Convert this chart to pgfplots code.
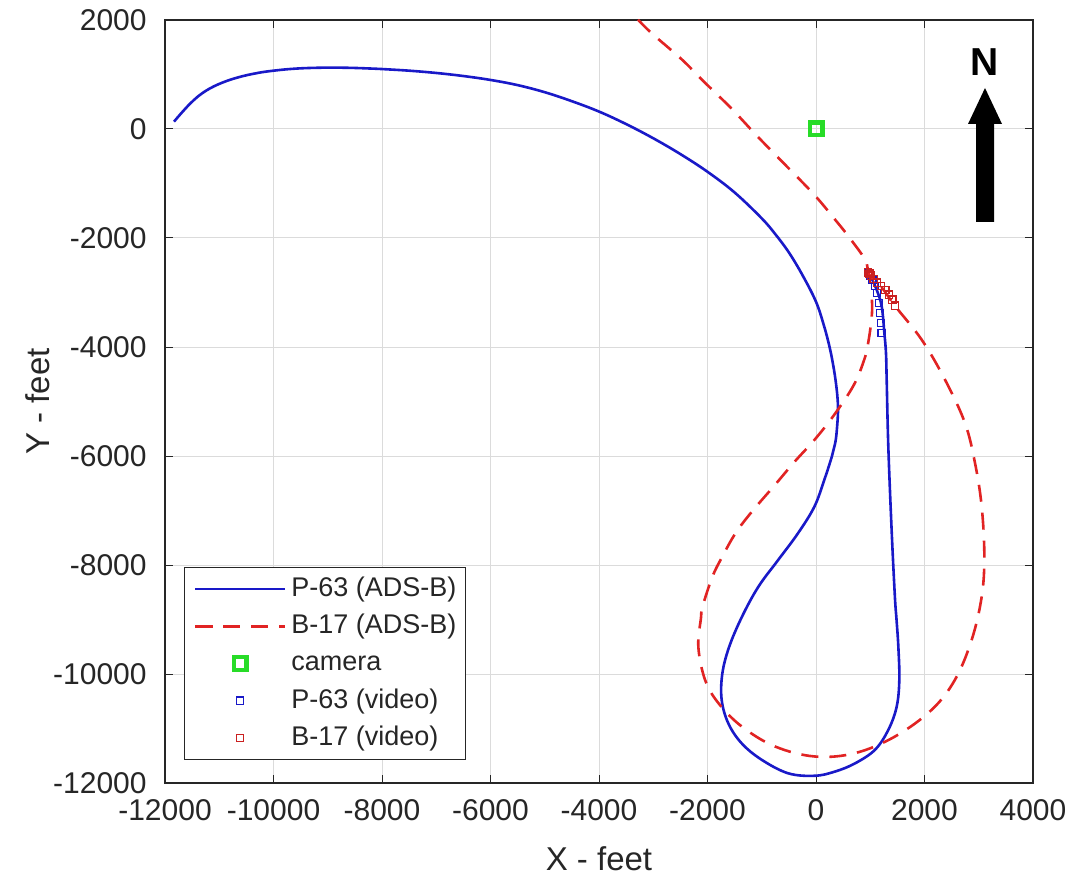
\documentclass[border=0pt]{standalone}
\usepackage{fontspec}
\setmainfont{Liberation Sans}
\usepackage{pgfplots}
\pgfplotsset{compat=1.18}
\definecolor{axgray}{rgb}{0.15,0.15,0.15}
\definecolor{pblue}{RGB}{25,25,200}
\definecolor{bred}{RGB}{225,35,35}
\definecolor{camgreen}{RGB}{40,220,40}

\begin{document}
\begin{tikzpicture}
\begin{axis}[
  at={(0,0)}, anchor=south west,
  scale only axis,
  width=434pt, height=381.5pt,
  xmin=-12000, xmax=4000, ymin=-12000, ymax=2000,
  xtick={-12000,-10000,...,4000},
  ytick={-12000,-10000,...,2000},
  xticklabels={-12000,-10000,-8000,-6000,-4000,-2000,0,2000,4000},
  yticklabels={-12000,-10000,-8000,-6000,-4000,-2000,0,2000},
  scaled ticks=false,
  tick align=inside,
  major tick length=4pt,
  tick style={axgray, line width=0.5pt},
  axis line style={axgray, line width=0.6pt},
  grid=major,
  major grid style={black!14, line width=0.5pt},
  tick label style={font=\fontsize{15}{15}\selectfont, text=axgray, inner sep=0pt},
  xticklabel style={anchor=north, yshift=-8pt},
  yticklabel style={anchor=east, xshift=-9pt},
  xlabel={X - feet}, ylabel={Y - feet},
  label style={font=\fontsize{16.5}{16.5}\selectfont, text=axgray, inner sep=0pt},
  xlabel style={at={(axis description cs:0.5,0)}, anchor=base, yshift=-43.5pt},
  ylabel style={at={(axis description cs:-0.1325,0.5)}, anchor=base},
  legend style={at={(axis description cs:0.02224,0.03014)}, anchor=south west,
    draw=axgray, line width=0.5pt, fill=white,
    font=\fontsize{13.5}{13.5}\selectfont, text=black!85,
    inner xsep=4.5pt, inner ysep=4.6pt,
    nodes={inner sep=0pt, text height=10pt, text depth=2.5pt},
    row sep=6.1pt, column sep=2.5pt,
    cells={anchor=west}},
  legend image code/.code={\draw[mark repeat=2,mark phase=2,#1] plot coordinates {(0pt,0pt) (22.5pt,0pt) (45pt,0pt)};},
]
% P-63 track (ADS-B)
\addplot[pblue, line width=1.3pt, smooth, tension=0.6] coordinates {
  (-11834,135) (-11700,290) (-11550,452) (-11400,591) (-11250,699)
  (-11100,782) (-10950,848) (-10800,903) (-10650,948) (-10500,986)
  (-10350,1017) (-10200,1044) (-10000,1070) (-9750,1096) (-9500,1113)
  (-9250,1122) (-9000,1126) (-8750,1125) (-8500,1120) (-8250,1111)
  (-8000,1100) (-7500,1070) (-7000,1028) (-6500,972) (-6000,900)
  (-5500,805) (-5000,675) (-4500,510) (-4000,320) (-3500,90)
  (-3000,-170) (-2500,-460) (-2000,-785) (-1500,-1165) (-1000,-1640)
  (-750,-1930) (-500,-2265) (-250,-2680) (0,-3170) (150,-3620)
  (250,-4000) (320,-4350) (370,-4680) (400,-4980) (405,-5200)
  (390,-5450) (364,-5706) (320,-5900) (273,-6073) (152,-6440)
  (-30,-6930) (-333,-7419) (-697,-7908) (-1061,-8397) (-1364,-8948)
  (-1600,-9500) (-1726,-9988) (-1739,-10473) (-1616,-10906) (-1370,-11272)
  (-1001,-11574) (-509,-11823) (-18,-11867) (350,-11790) (719,-11640)
  (1088,-11390) (1334,-11023) (1487,-10600) (1536,-10105) (1518,-9500)
  (1485,-9009) (1454,-8581) (1394,-7358) (1333,-5829) (1303,-4606)
  (1290,-4111) (1260,-3743) (1211,-3255) (1118,-2949) (1008,-2704)
};
% B-17 track (ADS-B)
\addplot[bred, line width=1.3pt, dash pattern=on 8.5pt off 5.5pt, smooth, tension=0.6] coordinates {
  (-3280,2006) (-3034,1761) (-2472,1275) (-2075,877) (-1569,386)
  (-1068,-147) (-568,-656) (-31,-1208) (366,-1680) (597,-1969)
  (905,-2397) (966,-2642) (1060,-2760) (1200,-2890) (1460,-3250)
  (1948,-3866) (2378,-4600) (2746,-5395) (2931,-6129) (3054,-6925)
  (3103,-7843) (3054,-8582) (2870,-9373) (2562,-10105) (2132,-10657)
  (1456,-11147) (719,-11452) (-18,-11514) (-755,-11330) (-1370,-10962)
  (-1800,-10533) (-2046,-10105) (-2169,-9500) (-2121,-8978) (-2091,-8764)
  (-1909,-8214) (-1727,-7847) (-1485,-7419) (-1182,-7021) (-758,-6532)
  (-394,-6104) (-30,-5706) (333,-5248) (697,-4697) (900,-4200)
  (966,-3898) (1010,-3600) (1035,-3300) (1020,-2950)
};
\addplot[camgreen, only marks, mark=square, mark size=3.2pt, mark options={line width=2.1pt}] coordinates {(0,0)};
\addplot[pblue, only marks, mark=square, mark size=1.8pt, mark options={line width=0.6pt}] coordinates {
  (975,-2650) (1000,-2700) (1040,-2770) (1090,-2880) (1120,-3010)
  (1160,-3190) (1180,-3380) (1200,-3560) (1210,-3745)
};
\addplot[bred!90!black, only marks, mark=square, mark size=1.8pt, mark options={line width=0.6pt}] coordinates {
  (960,-2630) (975,-2660) (990,-2650) (1010,-2690) (1060,-2750)
  (1120,-2820) (1200,-2880) (1280,-2950) (1350,-3040) (1410,-3130)
  (1460,-3240)
};
\legend{P-63 (ADS-B), B-17 (ADS-B), camera, P-63 (video), B-17 (video)}
\end{axis}
% north arrow
\fill[black] (405.5pt,280.5pt) -- (405.5pt,329.5pt) -- (401.5pt,329.5pt) -- (410pt,347.5pt)
  -- (418.5pt,329.5pt) -- (414.5pt,329.5pt) -- (414.5pt,280.5pt) -- cycle;
\node[font=\fontsize{19.5}{19.5}\selectfont\bfseries, text=black, inner sep=0pt] at (410pt,360.5pt) {N};
\pgfresetboundingbox
\path[use as bounding box] (-82.5pt,-48pt) rectangle (453pt,391.5pt);
\end{tikzpicture}
\end{document}
